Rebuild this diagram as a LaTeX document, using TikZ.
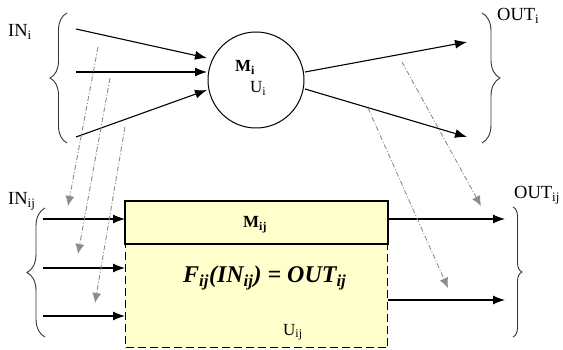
\documentclass[tikz,border=0pt]{standalone}
\usepackage{fontspec}
\setmainfont{Liberation Serif}
\usetikzlibrary{arrows.meta,decorations.pathreplacing}
\definecolor{boxfill}{RGB}{255,255,204}
\begin{document}
\begin{tikzpicture}[x=1pt,y=-1pt,
  lbl/.style={inner sep=0pt, anchor=base west, font=\fontsize{18.5}{20}\selectfont},
  arr/.style={line width=1.1pt, -{Latex[length=12pt,width=9pt]}},
  garr/.style={color=black!45, line width=0.9pt, dash pattern=on 5pt off 2pt on 1pt off 2pt, -{Latex[length=10pt,width=9pt]}},
  brc/.style={decorate, decoration={brace, amplitude=#1}, line width=0.9pt, black!80},
  mbox/.style={draw, line width=1.3pt, fill=boxfill, minimum width=262pt, inner sep=0pt, anchor=north west}]
\useasboundingbox (0,0) rectangle (563,350);

% braces
\draw[brc=17] (67,143) -- (67,13);
\draw[brc=18] (482,13) -- (482,143);
\draw[brc=18] (45,337) -- (45,208);
\draw[brc=9] (513,207) -- (513,337);

% labels
\node[lbl] (INi) at (8,37) {IN\textsubscript{i}};
\node[lbl] (OUTi) at (497,21) {OUT\textsubscript{i}};
\node[lbl] (INij) at (8,205) {IN\textsubscript{ij}};
\node[lbl] (OUTij) at (514,199) {OUT\textsubscript{ij}};

% circle
\node[circle, draw, line width=1pt, minimum size=96pt, inner sep=0pt] (M) at (256,80) {};
\node[lbl, font=\fontsize{17}{19}\selectfont\bfseries] (Mi) at (235,72) {M\textsubscript{i}};
\node[lbl, font=\fontsize{17}{19}\selectfont] (Ui) at (250,93) {U\textsubscript{i}};

% box
\node[mbox, minimum height=42pt] (mtop) at (125,201) {};
\node[mbox, minimum height=104pt, dash pattern=on 8pt off 4pt] (mbot) at (125,243) {};
\draw[line width=1.2pt] (mtop.south west) -- (mtop.north west) -- (mtop.north east) -- (mtop.south east) -- cycle;
\node[lbl, font=\fontsize{17}{19}\selectfont\bfseries] (Mij) at (243,228) {M\textsubscript{ij}};
\node[lbl, font=\fontsize{24}{26}\selectfont\bfseries\itshape] (F) at (183,283) {F\textsubscript{ij}(IN\textsubscript{ij}) = OUT\textsubscript{ij}};
\node[lbl, font=\fontsize{17}{19}\selectfont] (Uij) at (283,335) {U\textsubscript{ij}};

% top arrows
\coordinate (a1) at (76,29);  \coordinate (a1e) at (207,58);
\coordinate (a2) at (76,72);  \coordinate (a2e) at (207,72);
\coordinate (a3) at (76,137); \coordinate (a3e) at (207,90);
\draw[arr] (a1) -- (a1e);
\draw[arr] (a2) -- (a2e);
\draw[arr] (a3) -- (a3e);
\coordinate (o1) at (305,72);  \coordinate (o1e) at (467,42);
\coordinate (o2) at (305,89);  \coordinate (o2e) at (467,137);
\draw[arr] (o1) -- (o1e);
\draw[arr] (o2) -- (o2e);

% bottom arrows
\coordinate (b1) at (43,219);
\coordinate (b2) at (43,268);
\coordinate (b3) at (43,316);
\draw[arr] (b1) -- (b1 -| mtop.west);
\draw[arr] (b2) -- (b2 -| mbot.west);
\draw[arr] (b3) -- (b3 -| mbot.west);
\coordinate (c1) at (505,219);
\coordinate (c2) at (505,300);
\draw[arr] (c1 -| mtop.east) -- (c1);
\draw[arr] (c2 -| mbot.east) -- (c2);

% grey dash-dot arrows
\coordinate (g1) at (98,47);   \coordinate (g1e) at (68,206);
\coordinate (g2) at (110,78);  \coordinate (g2e) at (78,254);
\coordinate (g3) at (125,127); \coordinate (g3e) at (95,303);
\coordinate (g4) at (402,62);  \coordinate (g4e) at (481,206);
\coordinate (g5) at (368,108); \coordinate (g5e) at (448,288);
\draw[garr] (g1) -- (g1e);
\draw[garr] (g2) -- (g2e);
\draw[garr] (g3) -- (g3e);
\draw[garr] (g4) -- (g4e);
\draw[garr] (g5) -- (g5e);
\end{tikzpicture}
\end{document}
